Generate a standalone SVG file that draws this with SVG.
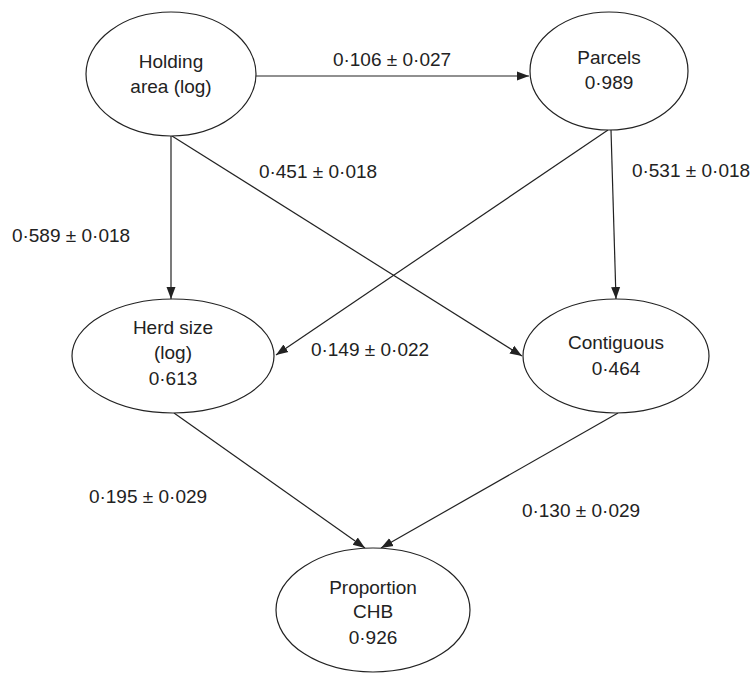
<svg xmlns="http://www.w3.org/2000/svg" width="752" height="675" viewBox="0 0 752 675">
<style>
  .node ellipse { fill: #fff; stroke: #222; stroke-width: 1.2; }
  text { font-family: "Liberation Sans", Arial, sans-serif; font-size: 19px; fill: #222; }
  .node text { text-anchor: middle; }
  .edge { stroke: #222; stroke-width: 1.2; fill: none; marker-end: url(#arrow); }
</style>
<defs>
  <marker id="arrow" markerUnits="userSpaceOnUse" markerWidth="12" markerHeight="12" viewBox="0 0 12 12" refX="12" refY="6" orient="auto">
    <path d="M0,1.5 L12,6 L0,10.5 Z" fill="#222"/>
  </marker>
</defs>
<rect width="752" height="675" fill="#fff"/>
<g id="connectors">
  <line class="edge" x1="256" y1="76" x2="529" y2="76"/>
  <line class="edge" x1="171" y1="136" x2="171" y2="299"/>
  <line class="edge" x1="172" y1="136" x2="522" y2="356"/>
  <line class="edge" x1="608" y1="130" x2="276" y2="355"/>
  <line class="edge" x1="611" y1="130" x2="616" y2="299"/>
  <line class="edge" x1="174" y1="413" x2="365" y2="548"/>
  <line class="edge" x1="618" y1="413" x2="381" y2="548"/>
</g>
<g id="edge-labels">
  <text x="392" y="66" text-anchor="middle">0·106 ± 0·027</text>
  <text x="318" y="178" text-anchor="middle">0·451 ± 0·018</text>
  <text x="71" y="242" text-anchor="middle">0·589 ± 0·018</text>
  <text x="691" y="177" text-anchor="middle">0·531 ± 0·018</text>
  <text x="370" y="356" text-anchor="middle">0·149 ± 0·022</text>
  <text x="148" y="503" text-anchor="middle">0·195 ± 0·029</text>
  <text x="581" y="517" text-anchor="middle">0·130 ± 0·029</text>
</g>
<g id="holding" class="node">
  <ellipse cx="171" cy="74" rx="85" ry="62"/>
  <text x="171" y="68">Holding</text>
  <text x="171" y="93">area (log)</text>
</g>
<g id="parcels" class="node">
  <ellipse cx="609" cy="71" rx="79" ry="59"/>
  <text x="609" y="64">Parcels</text>
  <text x="609" y="89">0·989</text>
</g>
<g id="herd" class="node">
  <ellipse cx="173" cy="356" rx="101" ry="57"/>
  <text x="173" y="334">Herd size</text>
  <text x="173" y="359">(log)</text>
  <text x="173" y="385">0·613</text>
</g>
<g id="contiguous" class="node">
  <ellipse cx="616" cy="356" rx="93" ry="57"/>
  <text x="616" y="349">Contiguous</text>
  <text x="616" y="375">0·464</text>
</g>
<g id="proportion" class="node">
  <ellipse cx="373" cy="610" rx="97" ry="62"/>
  <text x="373" y="594">Proportion</text>
  <text x="373" y="618">CHB</text>
  <text x="373" y="644">0·926</text>
</g>
</svg>
